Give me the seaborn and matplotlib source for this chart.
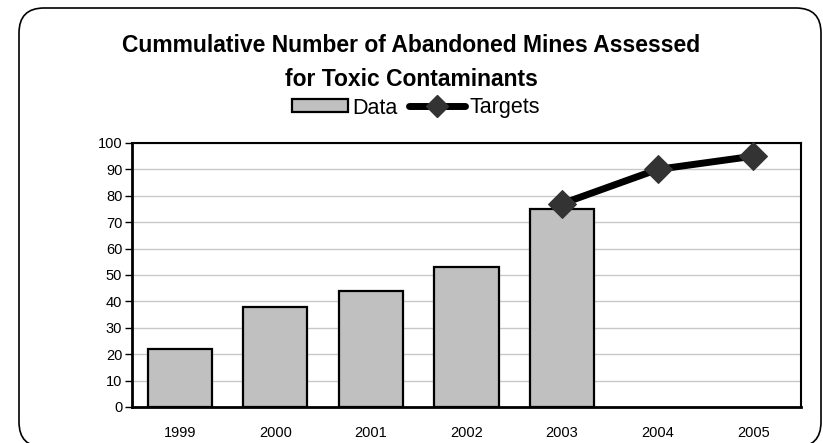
import matplotlib
matplotlib.use("Agg")
import matplotlib.pyplot as plt
from matplotlib.patches import Patch, FancyBboxPatch
from matplotlib.lines import Line2D
from matplotlib.transforms import IdentityTransform
import seaborn as sns
import pandas as pd

years = ["1999", "2000", "2001", "2002", "2003", "2004", "2005"]
data_years = ["1999", "2000", "2001", "2002", "2003"]
data_values = [22, 38, 44, 53, 75]
target_years = ["2003", "2004", "2005"]
target_values = [77, 90, 95]
yticks = list(range(0, 101, 10))

sns.set_style("white")
plt.rcParams["font.family"] = ["Liberation Sans", "DejaVu Sans"]
plt.rcParams["text.color"] = "black"
plt.rcParams["xtick.color"] = "black"
plt.rcParams["ytick.color"] = "black"

W, H = 823, 443
fig = plt.figure(figsize=(W / 100, H / 100), dpi=100)
ax = fig.add_axes([132 / W, 1 - 407 / H, (801 - 132) / W, (407 - 143) / H])

df = pd.DataFrame({"year": data_years, "value": data_values})
sns.barplot(data=df, x="year", y="value", order=years, color="#C0C0C0",
            saturation=1, width=0.67, edgecolor="black", linewidth=1.6, ax=ax)

tdf = pd.DataFrame({"pos": [years.index(y) for y in target_years], "value": target_values})
sns.lineplot(data=tdf, x="pos", y="value", color="black", linewidth=5,
             marker="D", markersize=14, markerfacecolor="#333333",
             markeredgecolor="#333333", ax=ax, zorder=5, clip_on=False)

ax.set_xlim(-0.5, len(years) - 0.5)
ax.set_ylim(0, 100)
ax.set_yticks(yticks)
ax.set_xticks(range(len(years)))
ax.set_xticklabels(years)
ax.set_xticks([i - 0.5 for i in range(len(years) + 1)], minor=True)
ax.set_xlabel("")
ax.set_ylabel("")
ax.yaxis.grid(True, color="#C8C8C8", linewidth=1)
ax.set_axisbelow(True)
ax.tick_params(axis="x", which="major", length=0, pad=14, labelsize=10.5)
ax.tick_params(axis="x", which="minor", length=5, width=1, color="black", direction="out")
ax.tick_params(axis="y", length=5, width=1, color="black", direction="out", labelsize=10.5, pad=2)
ax.tick_params(left=True, bottom=True)
for side, sp in ax.spines.items():
    sp.set_visible(True)
    sp.set_color("black")
    sp.set_linewidth(1.5)
ax.spines["bottom"].set_linewidth(2)
ax.spines["left"].set_linewidth(2)

fig.text(0.5, 1 - 45 / H, "Cummulative Number of Abandoned Mines Assessed",
         ha="center", va="center", fontsize=16.5, fontweight="bold")
fig.text(0.5, 1 - 79 / H, "for Toxic Contaminants",
         ha="center", va="center", fontsize=16.5, fontweight="bold")

handles = [Patch(facecolor="#C0C0C0", edgecolor="black", linewidth=1.6),
           Line2D([0], [0], color="black", linewidth=5, marker="D", markersize=11,
                  markerfacecolor="#333333", markeredgecolor="#333333")]
fig.legend(handles, ["Data", "Targets"], loc="center", bbox_to_anchor=(416 / W, 1 - 108 / H),
           ncol=2, frameon=False, fontsize=15.5, handlelength=2.6, handleheight=0.55,
           handletextpad=0.2, columnspacing=0.5)

box = FancyBboxPatch((19, -4), 821 - 19, 439,
                     boxstyle="round,pad=0,rounding_size=25",
                     transform=IdentityTransform(), facecolor="none", edgecolor="black",
                     linewidth=1.2)
fig.patches.append(box)

fig.savefig("out.png", dpi=100)
